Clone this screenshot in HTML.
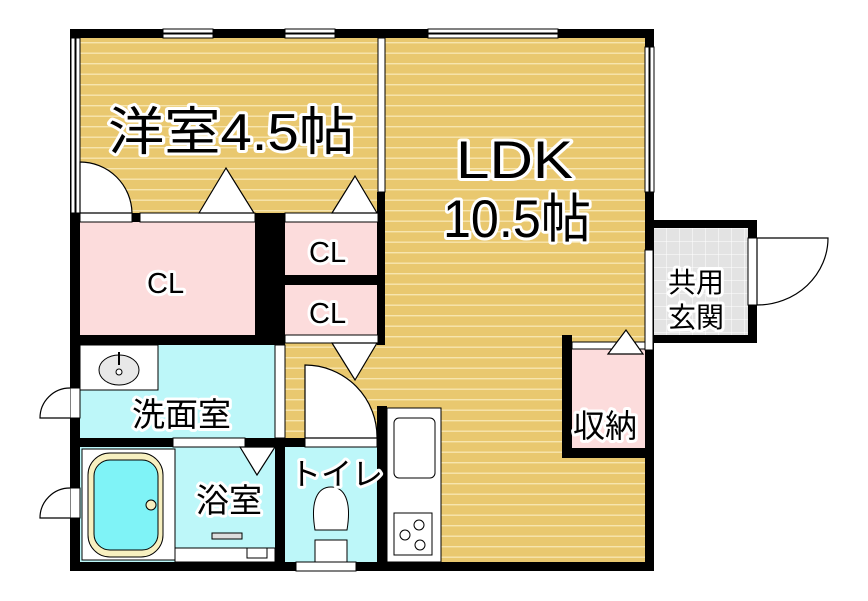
<!DOCTYPE html>
<html><head><meta charset="utf-8"><style>
html,body{margin:0;padding:0;background:#fff;}
svg{display:block}
.t{font-family:"Liberation Sans","Noto Sans CJK JP",sans-serif;fill:#000;stroke:#fff;stroke-width:6;paint-order:stroke;stroke-linejoin:round}
</style></head><body>
<svg width="868" height="601" viewBox="0 0 868 601" xmlns="http://www.w3.org/2000/svg">
<defs>
<pattern id="fl" width="10" height="10.5" patternUnits="userSpaceOnUse">
<rect width="10" height="10.5" fill="#E9C86F"/><rect y="0" width="10" height="1.4" fill="#F7E5AE"/>
</pattern>
<pattern id="tile" width="13" height="13" patternUnits="userSpaceOnUse" x="653" y="228">
<rect width="13" height="13" fill="#E3E3E3"/><path d="M0 0H13M0 0V13" stroke="#fff" stroke-width="1"/>
</pattern>
</defs>
<rect x="80" y="38" width="298" height="176" fill="url(#fl)"/>
<rect x="385" y="38" width="260" height="524" fill="url(#fl)"/>
<rect x="285" y="343" width="100" height="95" fill="url(#fl)"/>
<rect x="80" y="222" width="175" height="113" fill="#FCDCDC"/>
<rect x="285" y="222" width="93" height="53" fill="#FCDCDC"/>
<rect x="285" y="285" width="93" height="50" fill="#FCDCDC"/>
<rect x="572" y="342" width="73" height="106" fill="#FCDCDC"/>
<rect x="80" y="345" width="195" height="93" fill="#BDF7F9"/>
<rect x="80" y="447" width="195" height="115" fill="#BDF7F9"/>
<rect x="285" y="447" width="92" height="115" fill="#BDF7F9"/>
<rect x="653" y="228" width="95" height="107" fill="url(#tile)"/>
<g fill="#000">
<rect x="70" y="29" width="584" height="9"/>
<rect x="70" y="29" width="10" height="542"/>
<rect x="645" y="29" width="9" height="542"/>
<rect x="70" y="562" width="584" height="9"/>
<rect x="70" y="213" width="185" height="9"/>
<rect x="255" y="213" width="30" height="132"/>
<rect x="70" y="335" width="215" height="10"/>
<rect x="285" y="275" width="100" height="10"/>
<rect x="377" y="192" width="8" height="153"/>
<rect x="70" y="438" width="215" height="9"/>
<rect x="275" y="438" width="10" height="130"/>
<rect x="285" y="438" width="100" height="9"/>
<rect x="377" y="406" width="10" height="160"/>
<rect x="645" y="220" width="112" height="8"/>
<rect x="748" y="220" width="9" height="123"/>
<rect x="645" y="335" width="112" height="8"/>
<rect x="562" y="335" width="10" height="123"/>
<rect x="562" y="448" width="90" height="10"/>
</g>
<g fill="#fff" stroke="#000" stroke-width="1">
<rect x="163" y="29" width="50" height="9"/><rect x="163" y="33" width="50" height="1"/>
<rect x="285" y="29" width="50" height="9"/><rect x="285" y="33" width="50" height="1"/>
<rect x="428" y="29" width="130" height="9"/><rect x="428" y="33" width="130" height="1"/>
<rect x="71" y="38" width="9" height="175"/><rect x="75" y="38" width="1" height="175"/>
<rect x="645" y="47" width="9" height="145"/><rect x="649" y="47" width="1" height="145"/>
<rect x="378" y="38" width="7" height="154"/>
<rect x="296" y="562" width="60" height="9"/>
<rect x="80" y="213" width="52" height="9"/><rect x="140" y="213" width="115" height="9"/>
<rect x="285" y="213" width="93" height="9"/>
<rect x="285" y="335" width="93" height="8"/>
<rect x="572" y="342" width="73" height="7"/>
<rect x="275" y="345" width="10" height="93"/>
<rect x="645" y="250" width="8" height="100"/>
<rect x="748" y="238" width="9" height="67"/>
<rect x="173" y="438" width="72" height="9"/>
<rect x="305" y="438" width="72" height="9"/>
<rect x="70" y="388" width="10" height="30"/>
<rect x="70" y="488" width="10" height="30"/>
</g>
<g fill="#fff" stroke="#000" stroke-width="1.2">
<path d="M80 162 A52 52 0 0 1 132 213 H80 Z"/>
<path d="M305 365 A72 72 0 0 1 377 438 H305 Z"/>
<path d="M757 238 H828 A71 67 0 0 1 757 305 Z"/>
<path d="M70 388 A30 30 0 0 0 40 418 H70"/>
<path d="M70 488 A30 30 0 0 0 40 518 H70"/>
<path d="M199 213 L226 168 L254 213 Z"/>
<path d="M332 213 L355 176 L377 213 Z"/>
<path d="M332 343 L355 380 L377 343 Z"/>
<path d="M240 447 L257 475 L275 447 Z"/>
<path d="M608 354 L626 330 L643 354 Z"/>
</g>
<rect x="80" y="345" width="78" height="45" fill="#fff" stroke="#000"/>
<ellipse cx="119" cy="370" rx="20" ry="15" fill="#e8e8e8" stroke="#000"/>
<circle cx="119" cy="372" r="3" fill="#fff" stroke="#000"/>
<line x1="119" y1="352" x2="119" y2="365" stroke="#000" stroke-width="2"/>
<rect x="82" y="449" width="93" height="111" fill="#fff" stroke="#000"/>
<rect x="88" y="453" width="75" height="104" rx="22" fill="#F7F0C0" stroke="#000"/>
<rect x="94" y="460" width="64" height="90" rx="16" fill="#7FF3F7" stroke="#000"/>
<circle cx="151" cy="505" r="5" fill="#F7F0C0" stroke="#000"/>
<rect x="175" y="548" width="100" height="14" fill="#fff" stroke="#000"/>
<rect x="247" y="548" width="20" height="10" fill="#fff" stroke="#000"/>
<rect x="212" y="533" width="30" height="6" fill="#ddd" stroke="#000"/>
<path d="M315 530 C310 500 318 487 331 487 C344 487 352 500 347 530 Z" fill="#fff" stroke="#000"/>
<rect x="315" y="540" width="32" height="22" fill="#fff" stroke="#000"/>
<rect x="387" y="408" width="54" height="154" fill="#fff" stroke="#000"/>
<rect x="394" y="418" width="41" height="60" rx="5" fill="#fff" stroke="#000"/>
<rect x="394" y="513" width="38" height="42" fill="#fff" stroke="#000"/>
<circle cx="419" cy="525" r="5" fill="#fff" stroke="#000"/>
<circle cx="405" cy="535" r="5" fill="#fff" stroke="#000"/>
<circle cx="420" cy="545" r="5" fill="#fff" stroke="#000"/>
<text class="t" x="108" y="150" font-size="52" textLength="247" lengthAdjust="spacingAndGlyphs">洋室4.5帖</text>
<text class="t" x="456" y="178" font-size="53" textLength="117" lengthAdjust="spacingAndGlyphs">LDK</text>
<text class="t" x="443" y="237" font-size="53" textLength="148" lengthAdjust="spacingAndGlyphs">10.5帖</text>
<text class="t" x="147" y="293" font-size="29">CL</text>
<text class="t" x="309" y="262" font-size="29">CL</text>
<text class="t" x="309" y="323" font-size="29">CL</text>
<text class="t" x="132" y="426" font-size="33">洗面室</text>
<text class="t" x="196" y="512" font-size="33">浴室</text>
<text class="t" x="290" y="485" font-size="31">トイレ</text>
<text class="t" x="573" y="437" font-size="32">収納</text>
<text class="t" x="668" y="292" font-size="28">共用</text>
<text class="t" x="668" y="327" font-size="28">玄関</text>
</svg>
</body></html>
